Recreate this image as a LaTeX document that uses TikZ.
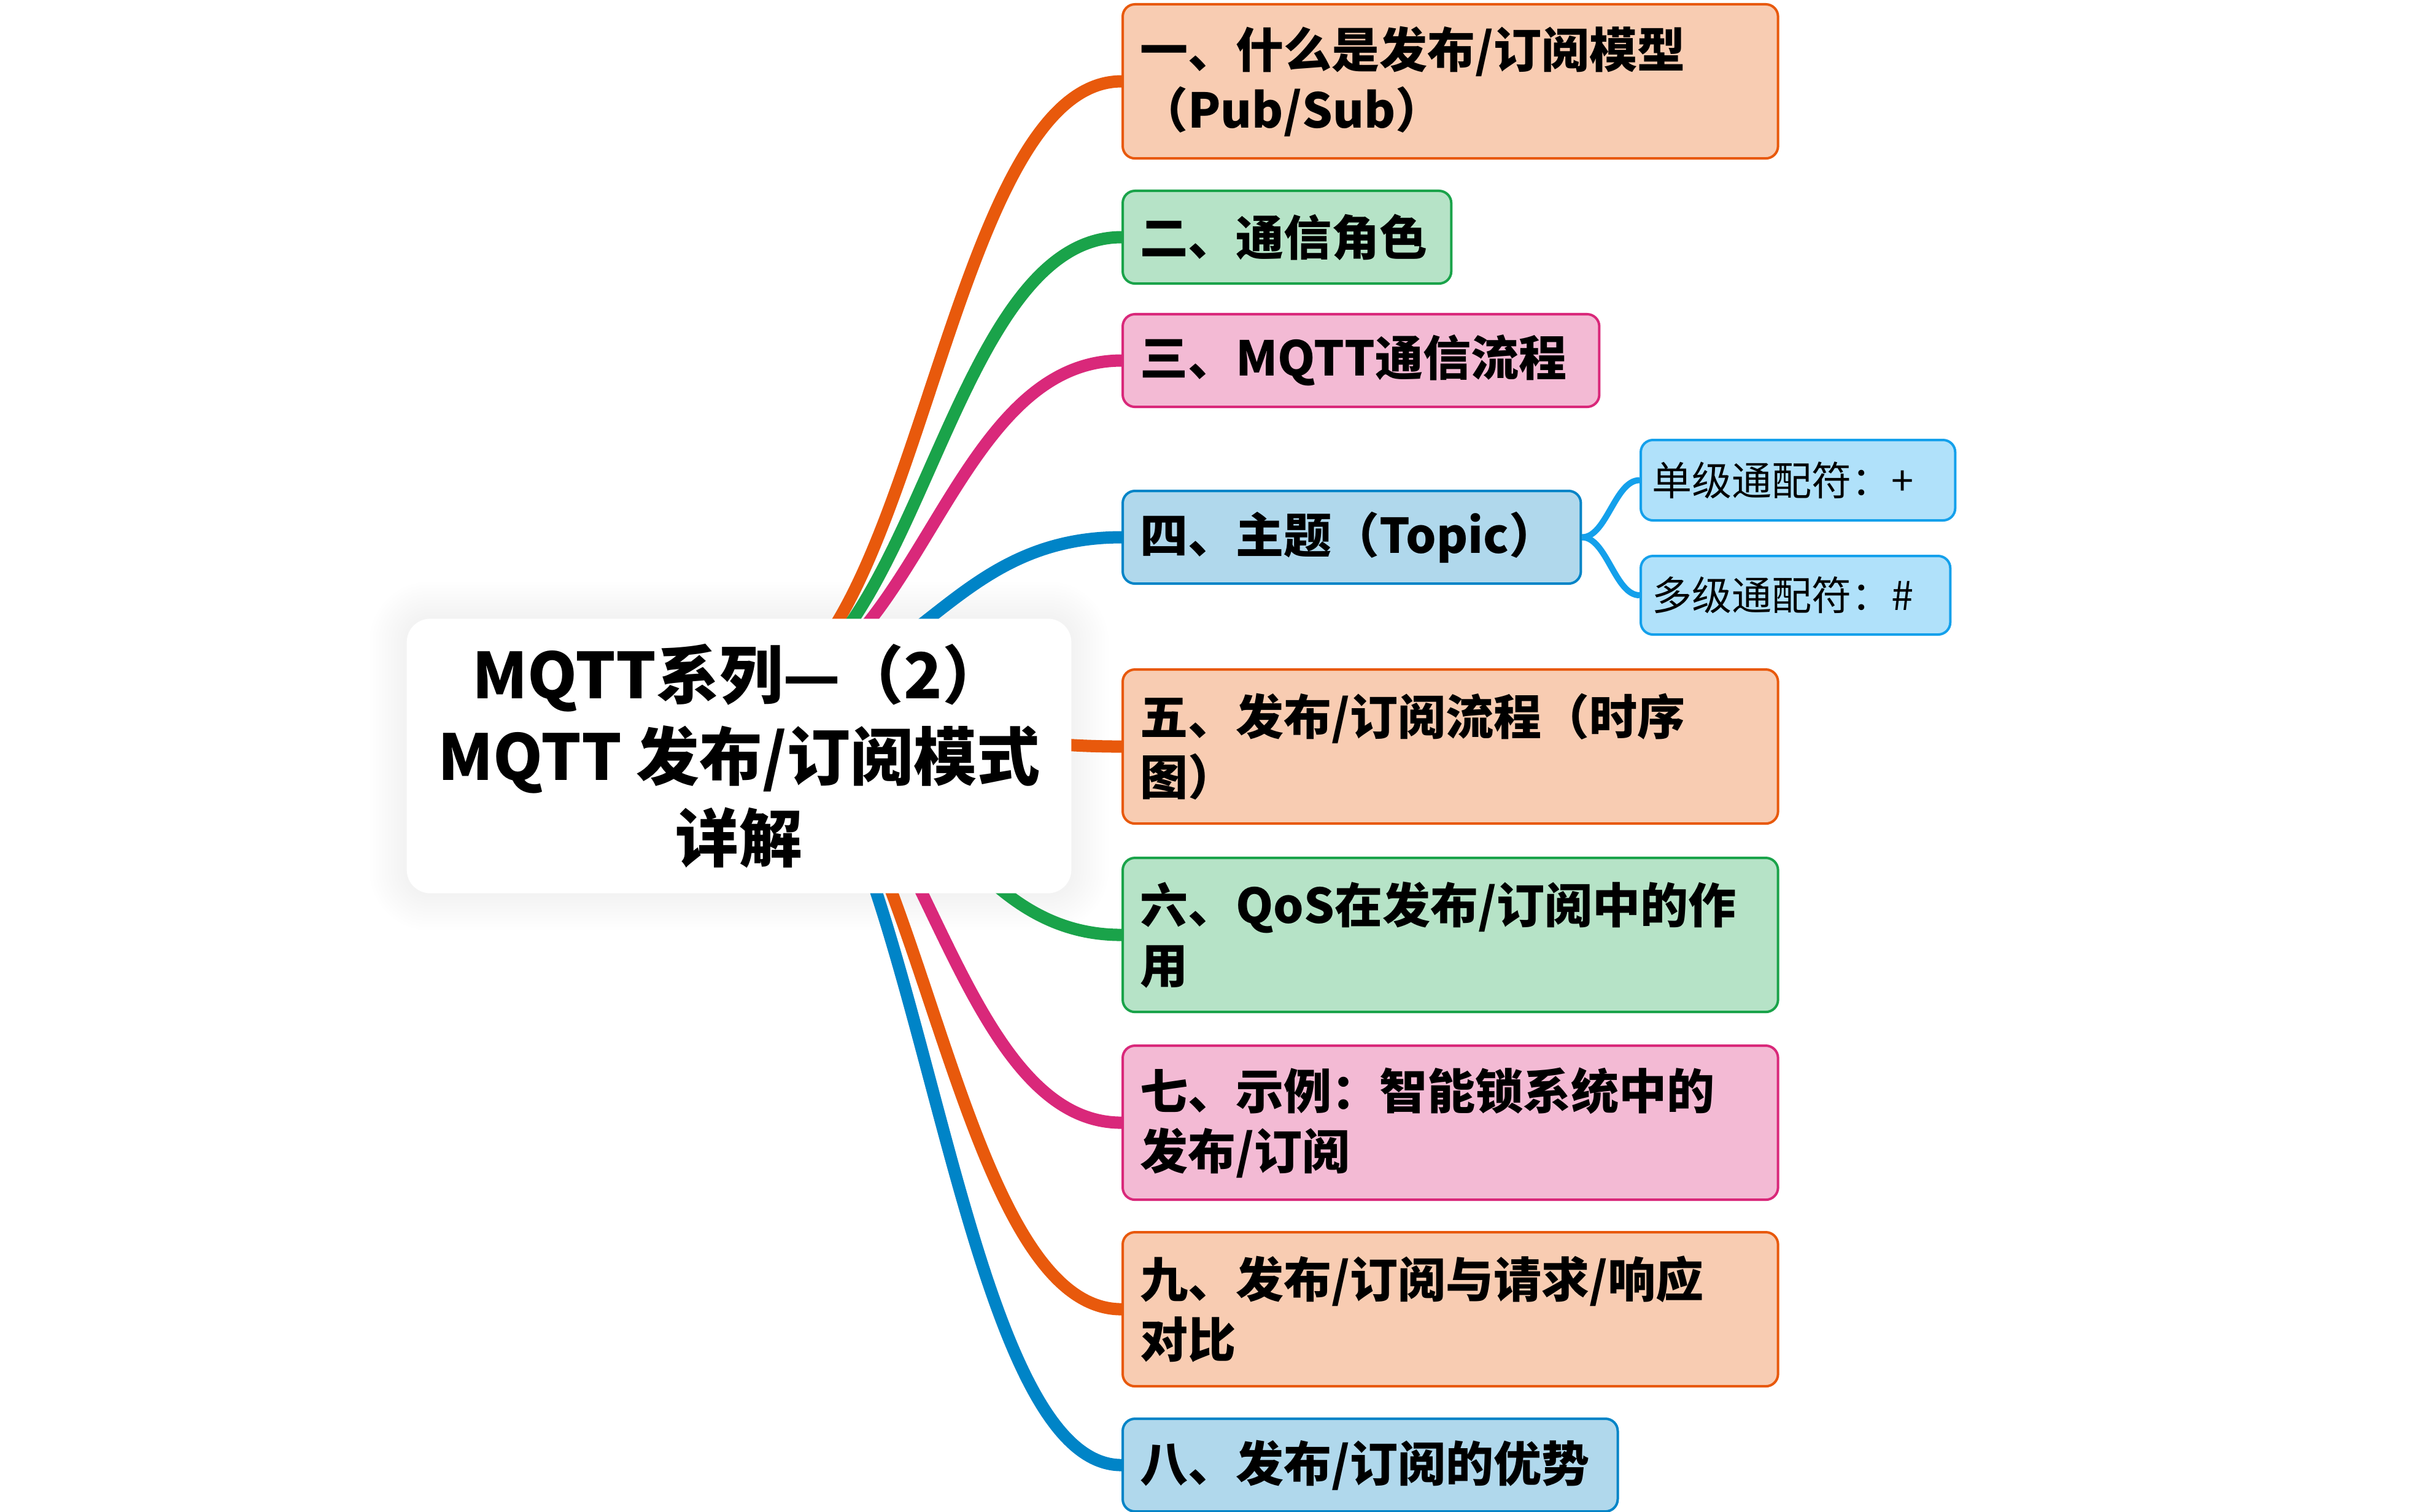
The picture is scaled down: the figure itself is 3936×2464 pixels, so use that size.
\documentclass[tikz,border=0pt]{standalone}
\usepackage{fontspec}
\newfontfamily\cjk{Noto Sans CJK SC}
\usetikzlibrary{calc}

\definecolor{orgline}{HTML}{E8590C}
\definecolor{orgfill}{HTML}{F8CCB2}
\definecolor{grnline}{HTML}{1AA34A}
\definecolor{grnfill}{HTML}{B6E3C7}
\definecolor{pnkline}{HTML}{D9287A}
\definecolor{pnkfill}{HTML}{F3BAD4}
\definecolor{bluline}{HTML}{0084C7}
\definecolor{blufill}{HTML}{B0D8EC}
\definecolor{skyline}{HTML}{14A0EB}
\definecolor{skyfill}{HTML}{B0E1FA}

\pgfdeclarelayer{canvas}
\pgfdeclarelayer{shade}
\pgfdeclarelayer{links}
\pgfsetlayers{canvas,shade,links,main}

\tikzset{
  rootbox/.style={fill=white, rounded corners=0.38cm, minimum width=10.82cm,
    minimum height=4.47cm, inner sep=0pt, align=center,
    font=\cjk\bfseries\fontsize{29.3pt}{37.8pt}\selectfont},
  topic/.style={draw, line width=0.04cm, rounded corners=0.2cm, anchor=north west,
    inner xsep=0.28cm, inner ysep=0pt, align=left,
    font=\cjk\bfseries\fontsize{22.2pt}{27.9pt}\selectfont},
  onerow/.style={minimum height=1.51cm},
  tworow/.style={minimum height=2.51cm, text width=10.11cm},
  orgtopic/.style={topic, draw=orgline, fill=orgfill},
  grntopic/.style={topic, draw=grnline, fill=grnfill},
  pnktopic/.style={topic, draw=pnkline, fill=pnkfill},
  blutopic/.style={topic, draw=bluline, fill=blufill},
  subtopic/.style={draw=skyline, fill=skyfill, line width=0.04cm, rounded corners=0.2cm,
    anchor=north west, inner xsep=0.18cm, inner ysep=0pt, align=left,
    font=\cjk\fontsize{18.5pt}{23pt}\selectfont},
  link/.style={line width=0.2cm, draw=#1},
  sublink/.style={line width=0.1cm, draw=skyline}
}

\begin{document}
\begin{tikzpicture}[x=0.01cm, y=-0.01cm]
\useasboundingbox (0,0) rectangle (3936,2464);
\begin{pgfonlayer}{canvas}
  \fill[white] (0,0) rectangle (3936,2464);
\end{pgfonlayer}

% central topic
\node[rootbox] (root) at (1204,1232) {MQTT系列—（2）\\MQTT 发布/订阅模式\\详解};
% all main branches grow out of this point behind the central topic
\coordinate (hub) at ($(root.center)+(0,-95)$);

% main topics
\node[orgtopic, tworow] (t1) at (1827,5) {一、什么是发布/订阅模型\\（Pub/Sub）};
\node[grntopic, onerow, text width=4.79cm] (t2) at (1827,309) {二、通信角色};
\node[pnktopic, onerow, text width=7.20cm] (t3) at (1827,510) {三、MQTT通信流程};
\node[blutopic, onerow, text width=6.90cm] (t4) at (1827,798) {四、主题（Topic）};
\node[orgtopic, tworow] (t5) at (1827,1089) {五、发布/订阅流程（时序\\图）};
\node[grntopic, tworow] (t6) at (1827,1396) {六、QoS在发布/订阅中的作\\用};
\node[pnktopic, tworow] (t7) at (1827,1702) {七、示例：智能锁系统中的\\发布/订阅};
\node[orgtopic, tworow] (t9) at (1827,2006) {九、发布/订阅与请求/响应\\对比};
\node[blutopic, onerow, text width=7.50cm] (t8) at (1827,2310) {八、发布/订阅的优势};

% subtopics of the topic branch
\node[subtopic, minimum height=1.31cm, text width=4.76cm] (s1) at (2671,715) {单级通配符：+};
\node[subtopic, minimum height=1.28cm, text width=4.68cm] (s2) at (2671,904) {多级通配符：\#};

% soft shadow under the central topic
\begin{pgfonlayer}{shade}
  \foreach \r in {1,...,12} {
    \pgfmathsetmacro{\rr}{0.38+0.05*\r}
    \fill[black, opacity=0.004, rounded corners=\rr cm]
      ($(root.south west)+(-5*\r,5*\r)$) rectangle ($(root.north east)+(5*\r,-5*\r)$);
  }
\end{pgfonlayer}

% branches
\begin{pgfonlayer}{links}
  \draw[link=orgline] (hub) .. controls +(290,0) and +(-290,0) .. (t1.west);
  \draw[link=grnline] (hub) .. controls +(290,0) and +(-290,0) .. (t2.west);
  \draw[link=pnkline] (hub) .. controls +(290,0) and +(-290,0) .. (t3.west);
  \draw[link=bluline] (hub) .. controls +(290,0) and +(-290,0) .. (t4.west);
  \draw[link=orgline] (hub) .. controls +(290,0) and +(-290,0) .. (t5.west);
  \draw[link=grnline] (hub) .. controls +(290,0) and +(-290,0) .. (t6.west);
  \draw[link=pnkline] (hub) .. controls +(290,0) and +(-290,0) .. (t7.west);
  \draw[link=orgline] (hub) .. controls +(290,0) and +(-290,0) .. (t9.west);
  \draw[link=bluline] (hub) .. controls +(290,0) and +(-290,0) .. (t8.west);
  \draw[sublink] (t4.east) .. controls +(40,0) and +(-40,0) .. (s1.west);
  \draw[sublink] (t4.east) .. controls +(40,0) and +(-40,0) .. (s2.west);
\end{pgfonlayer}
\end{tikzpicture}
\end{document}
